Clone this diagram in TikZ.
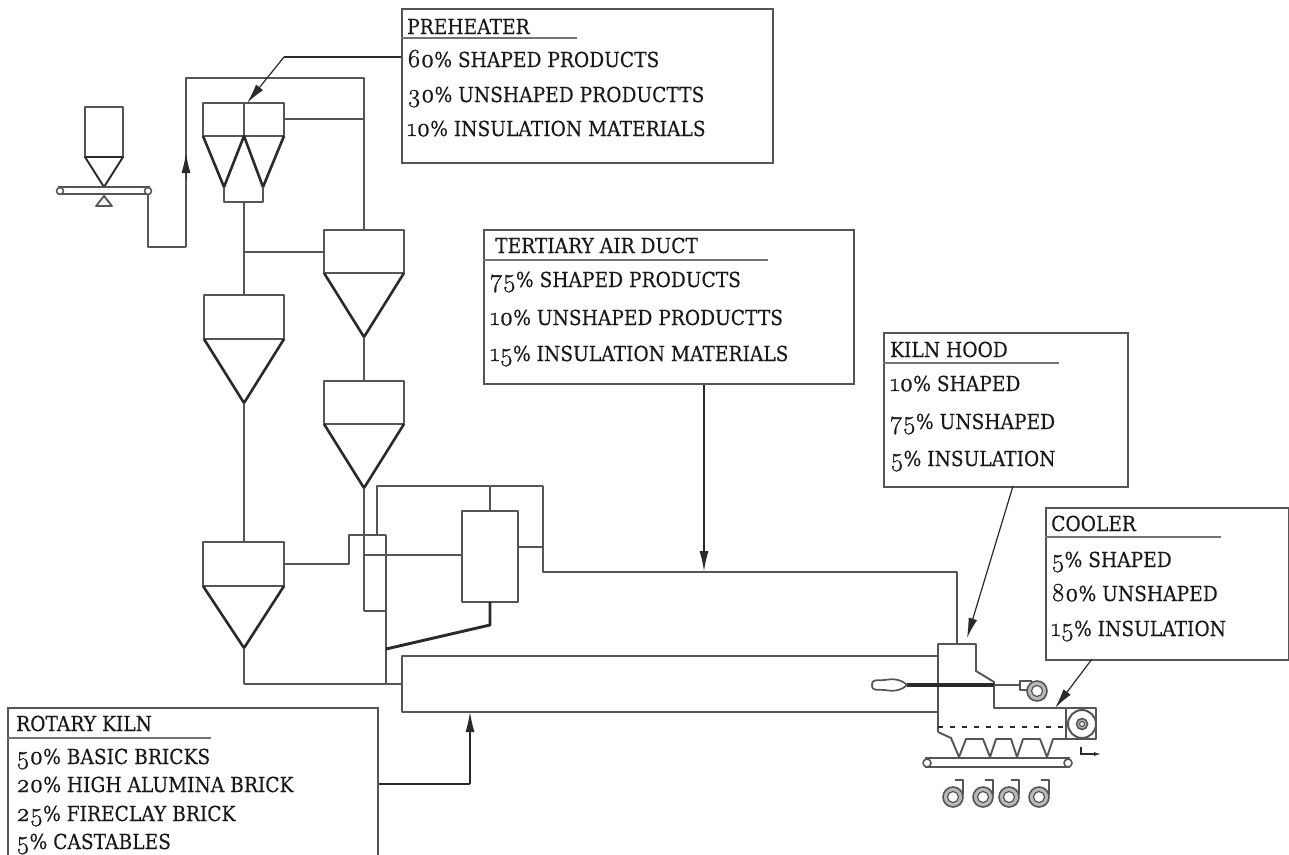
\documentclass[tikz,border=0pt]{standalone}
\usepackage{fontspec}
\setmainfont{DejaVu Serif}[FakeStretch=0.9,FakeBold=0.25]
\newfontfamily\oldnum{Latin Modern Roman}[Numbers=OldStyle,FakeBold=1]
\usetikzlibrary{arrows.meta}
\definecolor{ln}{HTML}{555555}
\definecolor{dk}{HTML}{2A2A2A}
\newcommand{\nm}[1]{{\oldnum\fontsize{26}{26}\selectfont #1}}
\tikzset{
  pipe/.style={draw=ln,line width=1.6pt,line join=round},
  heavy/.style={draw=dk,line width=2.6pt,line join=round},
  infobox/.style={draw=ln,line width=1.6pt,fill=white,rectangle,inner sep=0pt,anchor=north west},
  rulerline/.style={draw=gray!90!black,line width=1.8pt},
  lbl/.style={anchor=base west,inner sep=0pt,font=\fontsize{20.7}{20.7}\selectfont,text=black!90},
  leader/.style={draw=dk,line width=1.2pt,-{Latex[length=20pt,width=9pt]}},
  ring/.style={draw=ln,line width=1.6pt,fill=gray!55},
  hole/.style={draw=ln,line width=1.2pt,fill=white},
}
\newcommand{\fan}[3]{% centre x, y, direction of inlet
  \ifnum#3=0
    \draw[pipe] (#1+2,#2-17) -- (#1+10,#2-17) -- (#1+10,#2-2);
  \else
    \draw[pipe] (#1-8,#2-1) -- (#1-17,#2-1) -- (#1-17,#2-10) -- (#1-5,#2-10);
  \fi
  \path[ring] (#1,#2) circle (10);
  \path[hole] (#1,#2) circle (5.5);
}
\begin{document}
\begin{tikzpicture}[x=1pt,y=-1pt]
\useasboundingbox (0,0) rectangle (1289,854);
\fill[white] (0,0) rectangle (1289,854);

% ---------- named points of connectors
\coordinate (feedEnd) at (148,194);
\coordinate (riserBot) at (186,247);
\coordinate (riserTop) at (186,78);
\coordinate (riserRight) at (364,78);
\coordinate (phTip) at (247,103);
\coordinate (phKnee) at (284,57);
\coordinate (taTip) at (704,571);
\coordinate (khTip) at (967,638);
\coordinate (coTip) at (1055,708);
\coordinate (rkTip) at (470,712);

% ---------- raw feed
\draw[pipe] (85,157) -- (85,107) -- (123,107) -- (123,157);
\draw[heavy,line width=1.9pt] (85,157) -- (123,157) -- (104,187) -- cycle;
\draw[pipe] (58,187) -- (150,187) (58,194) -- (150,194);
\draw[pipe,fill=white] (60,191) circle (3.5) (148,191) circle (3.5);
\draw[pipe,line width=1.8pt] (104,196) -- (112,206) -- (96,206) -- cycle;
\draw[pipe,line width=1.3pt] (feedEnd) -- (148,247) -- (riserBot);
\draw[pipe,line width=2pt] (riserBot) -- (riserTop) -- (riserRight) -- (364,230);
\draw[dk,line width=1pt,-{Latex[length=20pt,width=9pt]}] (186,180) -- (186,153);

% ---------- preheater top twin cyclone
\draw[pipe] (203,136) -- (203,103) -- (284,103) -- (284,136);
\draw[pipe] (244,103) -- (244,136);
\draw[pipe,line width=2pt] (203,136) -- (284,136);
\draw[heavy] (203,136) -- (224,187) -- (244,136) -- (263,187) -- (284,136);
\draw[pipe] (224,187) -- (224,202) -- (263,202) -- (263,187);
\draw[pipe] (244,202) -- (244,295);
\draw[pipe] (284,119) -- (364,119);
\draw[pipe,line width=2pt] (244,252) -- (324,252);

% ---------- cyclones
\draw[pipe] (324,273) -- (324,230) -- (404,230) -- (404,273) -- cycle;
\draw[heavy] (324,273) -- (364,337) -- (404,273);
\draw[pipe] (364,337) -- (364,381);
\draw[pipe] (324,424) -- (324,381) -- (404,381) -- (404,424) -- cycle;
\draw[heavy] (324,424) -- (364,488) -- (404,424);
\draw[pipe] (364,488) -- (364,534);
\draw[pipe] (204,339) -- (204,295) -- (284,295) -- (284,339) -- cycle;
\draw[heavy] (204,339) -- (244,403) -- (284,339);
\draw[pipe] (244,403) -- (244,542);
\draw[pipe,line width=2pt] (203,586) -- (203,542) -- (284,542) -- (284,586) -- cycle;
\draw[heavy] (203,586) -- (244,648) -- (284,586);
\draw[pipe] (244,648) -- (244,684);
\draw[pipe,line width=2pt] (244,684) -- (402,684);
\draw[pipe] (284,564) -- (349,564) -- (349,535) -- (386,535);

% ---------- calciner
\draw[pipe,line width=1.9pt] (364,534) -- (364,611);
\draw[pipe,line width=2.3pt] (364,611) -- (386,611);
\draw[pipe,line width=1.9pt] (386,535) -- (386,684);
\draw[pipe,line width=1.9pt] (364,555) -- (462,555);
\draw[pipe] (377,535) -- (377,486) -- (543,486);
\draw[pipe,line width=1.9pt] (490,486) -- (490,511);
\draw[pipe,line width=1.9pt] (462,511) rectangle (518,602);
\draw[pipe,line width=2.3pt] (518,547) -- (543,547);
\draw[pipe,line width=1.9pt] (543,486) -- (543,572) -- (957,572) -- (957,644);
\draw[heavy,line width=2.9pt] (490,602) -- (490,625) -- (386,649);

% ---------- rotary kiln
\draw[pipe] (938,656) -- (402,656) -- (402,712) -- (938,712);

% ---------- kiln hood and cooler
\draw[pipe,line width=1.9pt] (938,732) -- (938,644) -- (976,644) -- (976,671) -- (994,682) -- (994,708) -- (1066,708);
\draw[pipe,line width=1.9pt] (938,732) -- (951,738) -- (959,757) -- (966,739) -- (983,739) -- (990,757) -- (996,739) -- (1011,739) -- (1017,757) -- (1023,739) -- (1040,739) -- (1047,757) -- (1053,739) -- (1066,739);
\draw[dk,line width=1.2pt,dash pattern=on 5pt off 7pt] (938,727) -- (1066,727);
\draw[pipe] (925,758) -- (1070,758) (925,767) -- (1070,767);
\draw[pipe,fill=white] (927,763) circle (4) (1068,763) circle (4);
\draw[pipe,line width=1.9pt] (1066,708) rectangle (1096,739);
\path[draw=ln,line width=2pt,fill=white] (1082,724) circle (14);
\path[ring] (1082,724) circle (5.5);
\path[hole] (1082,724) circle (2.5);
\draw[dk,line width=1.1pt,-{Latex[length=7pt,width=4pt]}] (1081,747) -- (1081,754) -- (1101,754);

% ---------- burner
\draw[draw=dk,line width=3.2pt] (907,685) -- (994,685);
\draw[pipe] (994,685) -- (1020,685);
\draw[draw=ln,line width=1.7pt,fill=white] (907,685) .. controls (900,678) and (890,679) .. (885,680)
  .. controls (878,681) and (872,678) .. (872,685)
  .. controls (872,692) and (878,689) .. (885,690)
  .. controls (890,691) and (900,692) .. (907,685) -- cycle;

% ---------- fans
\fan{1037}{691}{1}
\fan{953}{797}{0}
\fan{983}{797}{0}
\fan{1009}{797}{0}
\fan{1039}{797}{0}

% ---------- info boxes
\node[infobox,minimum width=371pt,minimum height=154pt] (phBox) at (401,8) {};
\node[infobox,minimum width=370pt,minimum height=154pt] (taBox) at (483,229) {};
\node[infobox,minimum width=244pt,minimum height=154pt] (khBox) at (883,332) {};
\node[infobox,minimum width=243pt,minimum height=152pt] (coBox) at (1045,507) {};
\node[infobox,minimum width=370pt,minimum height=170pt] (rkBox) at (7,707) {};

\draw[rulerline] (phBox.west |- 0,38) -- (577,38);
\draw[rulerline] (taBox.west |- 0,260) -- (768,260);
\draw[rulerline] (khBox.west |- 0,363) -- (1059,363);
\draw[rulerline] (coBox.west |- 0,537) -- (1221,537);
\draw[rulerline] (rkBox.west |- 0,738) -- (211,738);

% ---------- labels
\node[lbl] (ph0) at (407,34) {PREHEATER};
\node[lbl] (ph1) at (407,67) {\nm{60}\% SHAPED PRODUCTS};
\node[lbl] (ph2) at (407,102) {\nm{30}\% UNSHAPED PRODUCTTS};
\node[lbl] (ph3) at (407,136) {\nm{10}\% INSULATION MATERIALS};

\node[lbl] (ta0) at (495,253) {TERTIARY AIR DUCT};
\node[lbl] (ta1) at (490,287) {\nm{75}\% SHAPED PRODUCTS};
\node[lbl] (ta2) at (490,325) {\nm{10}\% UNSHAPED PRODUCTTS};
\node[lbl] (ta3) at (490,361) {\nm{15}\% INSULATION MATERIALS};

\node[lbl] (kh0) at (890,357) {KILN HOOD};
\node[lbl] (kh1) at (890,391) {\nm{10}\% SHAPED};
\node[lbl] (kh2) at (890,429) {\nm{75}\% UNSHAPED};
\node[lbl] (kh3) at (890,466) {\nm{5}\% INSULATION};

\node[lbl] (co0) at (1051,531) {COOLER};
\node[lbl] (co1) at (1051,567) {\nm{5}\% SHAPED};
\node[lbl] (co2) at (1051,601) {\nm{80}\% UNSHAPED};
\node[lbl] (co3) at (1051,636) {\nm{15}\% INSULATION};

\node[lbl] (rk0) at (16,731) {ROTARY KILN};
\node[lbl] (rk1) at (16,764) {\nm{50}\% BASIC BRICKS};
\node[lbl] (rk2) at (16,792) {\nm{20}\% HIGH ALUMINA BRICK};
\node[lbl] (rk3) at (16,821) {\nm{25}\% FIRECLAY BRICK};
\node[lbl] (rk4) at (16,849) {\nm{5}\% CASTABLES};

% ---------- leaders from boxes
\draw[draw=dk,line width=1.2pt] (phBox.west |- phKnee) -- (phKnee);
\draw[leader] (phKnee) -- (phTip);
\draw[leader] (taBox.south -| taTip) -- (taTip);
\draw[leader] (1013,486) -- (khTip);
\draw[leader] (1092,659) -- (coTip);
\draw[draw=dk,line width=1.2pt] (rkBox.east |- 0,784) -- (470,784);
\draw[leader] (470,784) -- (rkTip);
\end{tikzpicture}
\end{document}
